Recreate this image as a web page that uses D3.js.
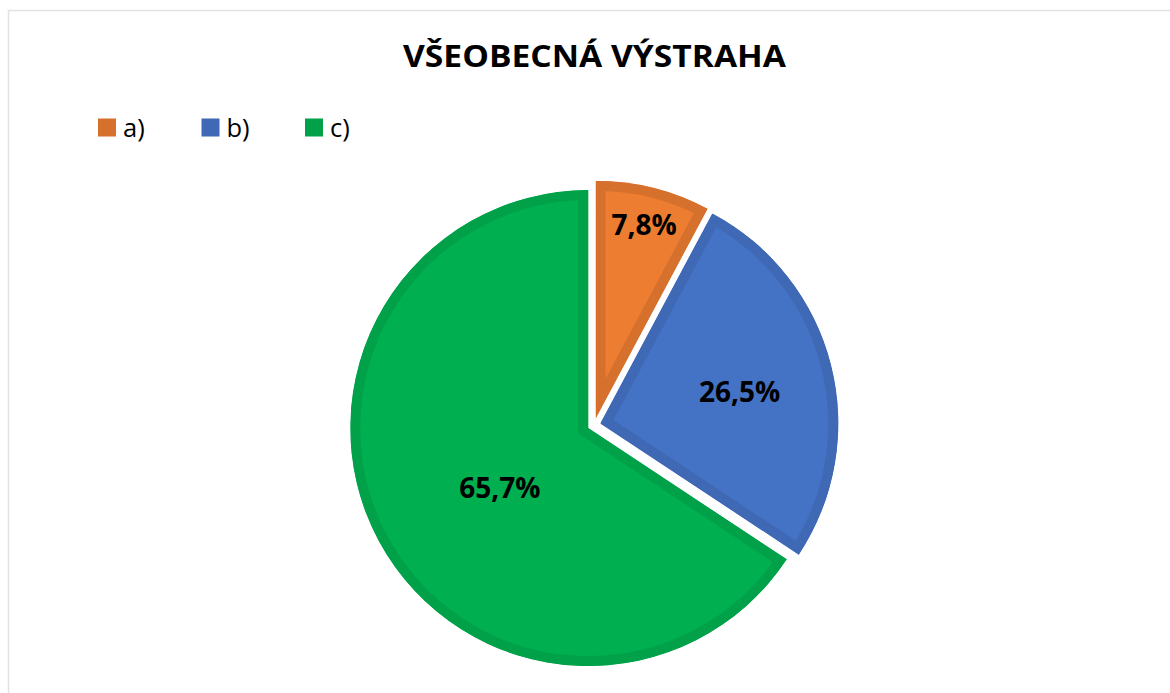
<!DOCTYPE html>
<html>
<head>
<meta charset="utf-8">
<script src="https://cdn.jsdelivr.net/npm/d3@7"></script>
<style>
  html, body { margin: 0; padding: 0; background: #fff; }
  svg { display: block; font-family: "Open Sans", sans-serif; }
</style>
</head>
<body>
<div id="chart"></div>
<script>
// chart data
var title = "VŠEOBECNÁ VÝSTRAHA";
var categories = ["a)", "b)", "c)"];
var values = [7.8, 26.5, 65.7];
var labels = ["7,8%", "26,5%", "65,7%"];

var fills = ["#ED7D31", "#4472C4", "#00B050"],
    borders = ["#D6712D", "#3F68B5", "#00A149"];

var width = 1170, height = 693,
    cx = 594, cy = 425,
    radius = 238,
    explode = 6.5,
    band = 10,
    // label placement inside each slice: fraction of radius, angle nudge (deg)
    labelRadius = [0.84, 0.6, 0.45],
    labelNudge = [0, 1.5, -6];

var svg = d3.select("#chart").append("svg")
    .attr("width", width)
    .attr("height", height);

// chart area frame (runs off the right and bottom)
svg.append("rect")
    .attr("x", 8.5).attr("y", 10.5)
    .attr("width", width).attr("height", height)
    .attr("fill", "none")
    .attr("stroke", "#e2e2e2")
    .attr("stroke-width", 1.5);

svg.append("text")
    .attr("x", 594.5).attr("y", 67)
    .attr("text-anchor", "middle")
    .attr("textLength", 383)
    .attr("lengthAdjust", "spacingAndGlyphs")
    .style("font-size", "29.5px")
    .style("font-weight", 700)
    .style("fill", "#000")
    .text(title);

// legend
var legend = svg.selectAll(".legend")
    .data(categories)
    .enter()
    .append("g")
    .attr("class", "legend")
    .attr("transform", function (d, i) { return "translate(" + (98 + i * 103.5) + ",118.5)"; });

legend.append("rect")
    .attr("width", 18).attr("height", 18)
    .attr("fill", function (d, i) { return borders[i]; });

legend.append("text")
    .attr("x", 25).attr("y", 18.8)
    .style("font-size", "25.5px")
    .style("fill", "#000")
    .text(function (d) { return d; });

// pie
var pie = d3.pie().sort(null).value(function (d) { return d; }),
    arcs = pie(values),
    arc = d3.arc().innerRadius(0).outerRadius(radius);

function midAngle(d) { return (d.startAngle + d.endAngle) / 2; }

var slices = svg.selectAll(".slice")
    .data(arcs)
    .enter()
    .append("g")
    .attr("class", "slice")
    .attr("transform", function (d) {
        var a = midAngle(d);
        return "translate(" + (cx + explode * Math.sin(a)) + "," + (cy - explode * Math.cos(a)) + ")";
    });

var defs = svg.append("defs");
arcs.forEach(function (d, i) {
    defs.append("clipPath").attr("id", "clip" + i)
        .append("path").attr("d", arc(d));
});

slices.append("path")
    .attr("d", arc)
    .attr("fill", function (d, i) { return fills[i]; })
    .attr("stroke", function (d, i) { return borders[i]; })
    .attr("stroke-width", band * 2)
    .attr("stroke-linejoin", "miter")
    .attr("clip-path", function (d, i) { return "url(#clip" + i + ")"; });

slices.append("text")
    .attr("transform", function (d, i) {
        var a = midAngle(d) + labelNudge[i] * Math.PI / 180,
            r = radius * labelRadius[i];
        return "translate(" + (r * Math.sin(a)) + "," + (-r * Math.cos(a)) + ")";
    })
    .attr("text-anchor", "middle")
    .attr("dy", "0.36em")
    .style("font-size", "28px")
    .style("font-weight", 700)
    .style("fill", "#000")
    .text(function (d, i) { return labels[i]; });
</script>
</body>
</html>
